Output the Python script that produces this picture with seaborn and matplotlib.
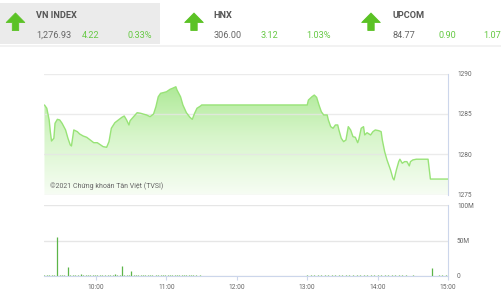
import numpy as np
import pandas as pd
import matplotlib
matplotlib.use("Agg")
import matplotlib.pyplot as plt
import seaborn as sns
from matplotlib.colors import LinearSegmentedColormap
from matplotlib.patches import Rectangle, Polygon

# ---------------- data ----------------
price_times = ["09:16","09:18","09:20","09:21","09:22","09:24","09:25","09:27","09:29","09:31",
               "09:34","09:36","09:38","09:39","09:41","09:44","09:46","09:49","09:52","09:55",
               "09:58","10:01","10:03","10:06","10:09","10:11","10:13","10:16","10:19","10:22",
               "10:24","10:26","10:28","10:29","10:32","10:35","10:38","10:40","10:43","10:46",
               "10:49","10:51","10:53","10:55","10:57","11:00","11:03","11:05","11:07","11:08",
               "11:09","11:12","11:14","11:17","11:20","11:22","11:24","11:26","11:29","11:30",
               "13:00","13:01","13:04","13:06","13:08","13:10","13:12","13:14","13:17","13:18",
               "13:20","13:22","13:24","13:26","13:27","13:29","13:31","13:33","13:35","13:37",
               "13:39","13:41","13:43","13:44","13:46","13:48","13:49","13:51","13:54","13:56",
               "13:58","14:01","14:03","14:04","14:06","14:08","14:11","14:13","14:14","14:16",
               "14:18","14:19","14:21","14:23","14:25","14:27","14:28","14:30","14:33","14:39",
               "14:43","14:45","15:00"]
price_values = [1286.12,1285.71,1284.26,1282.81,1281.65,1281.99,1283.85,1284.34,1284.26,1283.85,
                1283.02,1281.99,1281.16,1281.03,1283.02,1282.81,1282.52,1282.27,1282.11,1281.78,
                1281.44,1281.44,1281.25,1280.95,1280.87,1281.57,1283.23,1283.92,1284.26,1284.59,
                1284.75,1284.26,1283.64,1284.17,1284.67,1285.16,1285.09,1285.00,1284.88,1284.67,
                1285.00,1285.90,1287.14,1287.57,1287.64,1287.76,1288.06,1288.18,1288.31,1288.38,
                1287.97,1287.14,1286.12,1285.16,1284.59,1284.34,1285.09,1285.71,1285.99,1286.12,
                1286.12,1286.73,1287.14,1287.35,1287.07,1286.12,1285.29,1284.88,1284.88,1284.26,
                1283.43,1283.23,1283.64,1283.64,1283.02,1281.99,1281.57,1281.78,1283.43,1283.02,
                1282.19,1282.11,1281.44,1281.86,1283.23,1283.43,1282.40,1282.68,1282.40,1282.81,
                1283.02,1282.93,1282.81,1281.78,1280.33,1279.30,1278.06,1277.03,1276.82,1278.06,
                1279.09,1279.39,1278.89,1279.09,1279.09,1278.56,1279.09,1279.30,1279.39,1279.39,
                1279.39,1276.93,1276.93]

vol_times = ["09:16","09:18","09:20","09:22","09:24","09:27","09:29","09:31","09:33","09:36",
             "09:38","09:40","09:42","09:45","09:47","09:49","09:51","09:53","09:55","09:57",
             "09:59","10:01","10:03","10:05","10:08","10:10","10:12","10:14","10:16","10:18",
             "10:20","10:22","10:24","10:26","10:28","10:30","10:32","10:34","10:36","10:38",
             "10:40","10:42","10:44","10:46","10:48","10:51","10:53","10:55","10:57","10:59",
             "11:01","11:03","11:05","11:07","11:09","11:11","11:13","11:15","11:17","11:19",
             "11:21","11:23","11:25","11:27","11:29",
             "13:00","13:03","13:06","13:09","13:12","13:15","13:18","13:21","13:24","13:27",
             "13:30","13:33","13:36","13:39","13:42","13:45","13:48","13:51","13:54","13:57",
             "14:00","14:03","14:06","14:09","14:12","14:15","14:18","14:21","14:24","14:27",
             "14:30","14:46","14:52","14:55","14:58"]
vol_values = [1.5,1.2,1.0,1.3,1.1,54.5,1.4,1.0,1.2,13.0,
              1.5,1.0,0.9,1.1,2.5,1.0,1.3,0.8,1.1,1.0,
              1.2,0.9,1.1,1.0,1.2,0.9,1.0,1.1,3.0,0.8,
              1.0,14.0,1.3,1.0,0.9,7.5,1.2,1.0,0.9,1.1,
              1.0,0.8,1.0,1.2,0.9,2.0,1.1,1.0,1.3,0.9,
              1.5,1.0,1.2,0.8,1.1,1.0,0.9,1.2,1.0,0.8,
              1.1,0.9,1.0,0.7,0.8,
              1.0,1.3,0.9,1.2,1.0,1.4,0.8,1.1,1.0,1.3,
              0.9,1.0,0.8,1.2,1.0,0.9,1.5,1.0,1.3,1.1,
              1.2,1.0,1.4,0.9,1.1,1.0,0.8,1.0,0.9,0.7,
              0.8,10.8,1.5,2.0,1.2]

price_ticks = [1275, 1280, 1285, 1290]
vol_ticks = [0, 50, 100]
vol_tick_labels = ["0", "50M", "100M"]
time_ticks = ["10:00", "11:00", "12:00", "13:00", "14:00", "15:00"]

header_names = ["VN INDEX", "HNX", "UPCOM"]
header_values = ["1,276.93", "306.00", "84.77"]
header_changes = ["4.22", "3.12", "0.90"]
header_pcts = ["0.33%", "1.03%", "1.07%"]


def to_h(s):
    h, m = s.split(":")
    return int(h) + int(m) / 60.0


# ---------------- style ----------------
sns.set_theme(style="white")
plt.rcParams["font.family"] = ["Roboto", "DejaVu Sans"]

W, H = 501, 300
fig = plt.figure(figsize=(W / 100, H / 100), dpi=100)
fig.patch.set_facecolor("white")


def fx(x):
    return x / W


def fy(y):
    return 1 - y / H


GREEN_TXT = "#66c944"
GREEN_ARR = "#5bc225"
GRAY_TXT = "#555555"
VAL_TXT = "#666666"
GRID = "#e6e6e6"
AXLINE = "#ccd6eb"

# ---------------- header ----------------
fig.patches.append(Rectangle((0, fy(44)), fx(160), 41 / H, transform=fig.transFigure,
                             facecolor="#ebebeb", edgecolor="none", zorder=0))
fig.patches.append(Rectangle((0, fy(47)), 1, 2.5 / H, transform=fig.transFigure,
                             facecolor="#f2f2f2", edgecolor="none", zorder=0))

arrow_cx = [15.5, 194, 371]
name_x = [36, 213.5, 392.5]
chg_x = [82, 260.5, 438.5]
pct_x = [127.5, 306, 483.5]
for i in range(3):
    cx = arrow_cx[i]
    pts = [(cx, 13), (cx + 9.3, 22.5), (cx + 3.2, 22.5), (cx + 3.2, 30.5),
           (cx - 3.2, 30.5), (cx - 3.2, 22.5), (cx - 9.3, 22.5)]
    fig.patches.append(Polygon([(fx(a), fy(b)) for a, b in pts], closed=True,
                               transform=fig.transFigure, facecolor=GREEN_ARR,
                               edgecolor=GREEN_ARR, lw=0.6, joinstyle="round", zorder=2))
    fig.text(fx(name_x[i]), fy(15.7), header_names[i], fontsize=6.6, fontweight="bold",
             color=GRAY_TXT, va="center", ha="left")
    fig.text(fx(name_x[i]), fy(35), header_values[i], fontsize=6.6, color=VAL_TXT,
             va="center", ha="left")
    fig.text(fx(chg_x[i]), fy(35), header_changes[i], fontsize=6.6, color=GREEN_TXT,
             va="center", ha="left")
    fig.text(fx(pct_x[i]), fy(35), header_pcts[i], fontsize=6.6, color=GREEN_TXT,
             va="center", ha="left")

# ---------------- price panel ----------------
X0, X1 = 9.26, 15.0
ax = fig.add_axes([fx(44), fy(194.6), fx(448 - 44), (194.6 - 73.7) / H])
df = pd.DataFrame({"t": [to_h(s) for s in price_times], "p": price_values})

poly = ax.fill_between(df["t"], df["p"], 1275, facecolor="none", lw=0)
grad = np.linspace(0, 1, 256).reshape(-1, 1)
cmap = LinearSegmentedColormap.from_list("g", ["#f7fdf4", "#d6f5c9", "#a4e68a"])
im = ax.imshow(grad, aspect="auto", cmap=cmap, extent=[X0, X1, 1275, 1290],
               origin="lower", zorder=1, interpolation="bilinear")
im.set_clip_path(poly.get_paths()[0], transform=ax.transData)

sns.lineplot(data=df, x="t", y="p", ax=ax, color="#98e377", linewidth=1.0, zorder=3)

ax.set_xlim(X0, X1)
ax.set_ylim(1275, 1290)
ax.set_yticks(price_ticks)
ax.set_yticklabels([str(v) for v in price_ticks])
ax.yaxis.tick_right()
ax.set_xticks([])
ax.set_xlabel("")
ax.set_ylabel("")
ax.set_axisbelow(False)
ax.grid(axis="y", color=GRID, lw=1.0, alpha=0.8, zorder=2)
ax.tick_params(axis="y", length=0, pad=6.5, labelsize=4.7, labelcolor=VAL_TXT)
for s in ["top", "left", "bottom"]:
    ax.spines[s].set_visible(False)
ax.spines["right"].set_color(AXLINE)
ax.spines["right"].set_linewidth(0.8)
ax.set_facecolor("white")

fig.text(fx(50), fy(186), "©2021 Chứng khoán Tân Việt (TVSI)", fontsize=5.0,
         color="#666666", va="center", ha="left", zorder=5)

# ---------------- volume panel ----------------
vax = fig.add_axes([fx(44), fy(276), fx(448 - 44), 71 / H])
vdf = pd.DataFrame({"t": [to_h(s) for s in vol_times], "v": vol_values})
vax.vlines(vdf["t"], 0, vdf["v"], color="#5cb548", lw=0.9, zorder=3)
vax.set_xlim(X0, X1)
vax.set_ylim(0, 100)
vax.set_yticks(vol_ticks)
vax.set_yticklabels(vol_tick_labels)
vax.yaxis.tick_right()
vax.set_xticks([to_h(s) for s in time_ticks])
vax.set_xticklabels(time_ticks)
vax.grid(axis="y", color=GRID, lw=1.0)
vax.tick_params(axis="y", length=0, pad=6.5, labelsize=4.7, labelcolor=VAL_TXT)
vax.tick_params(axis="x", length=3, width=0.8, color=AXLINE, pad=3, labelsize=4.8,
                labelcolor=VAL_TXT, bottom=True)
for s in ["top", "left"]:
    vax.spines[s].set_visible(False)
for s in ["right", "bottom"]:
    vax.spines[s].set_color(AXLINE)
    vax.spines[s].set_linewidth(0.8)
vax.set_xlabel("")
vax.set_ylabel("")
vax.set_facecolor("white")

fig.savefig("out.png", dpi=100)
